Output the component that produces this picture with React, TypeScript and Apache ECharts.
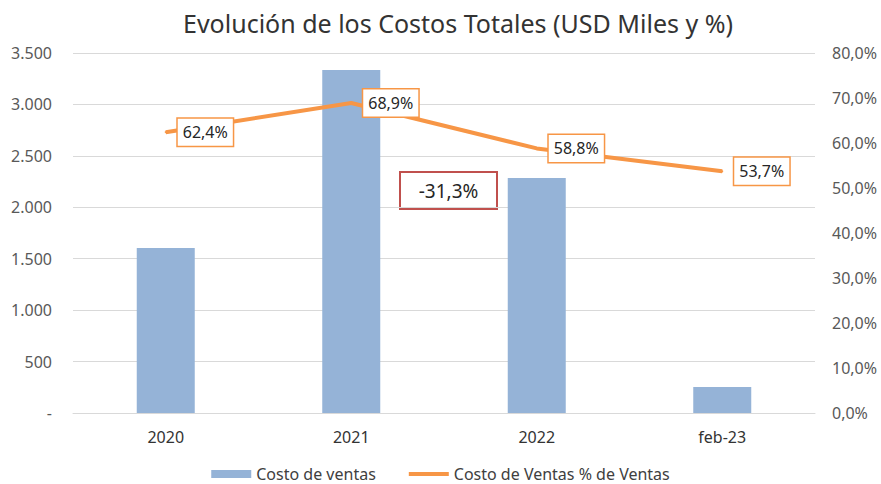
import React, { useEffect, useRef } from "react";
import * as echarts from "echarts";

const categories = ["2020", "2021", "2022", "feb-23"];
const costoVentas = [1604, 3335, 2285, 253];
const costoPct = [62.4, 68.9, 58.8, 53.7];
const variationLabel = "-31,3%";
const titleText = "Evolución de los Costos Totales (USD Miles y %)";

const FONT = "'Noto Sans', 'Open Sans', sans-serif";

function fmtThousands(v: number): string {
  if (v === 0) return "-";
  return String(v).replace(/\B(?=(\d{3})+(?!\d))/g, ".");
}
function fmtPct(v: number): string {
  return v.toFixed(1).replace(".", ",") + "%";
}

export default function App() {
  const ref = useRef<HTMLDivElement>(null);
  useEffect(() => {
    if (!ref.current) return;
    const chart = echarts.init(ref.current, undefined, { renderer: "svg" });
    chart.setOption({
      animation: false,
      backgroundColor: "#ffffff",
      title: {
        text: titleText,
        left: 178,
        top: 5,
        textStyle: { fontFamily: FONT, fontSize: 25, fontWeight: "normal", color: "#333333" },
      },
      legend: {
        top: 461,
        left: "center",
        itemGap: 33,
        itemWidth: 40,
        itemHeight: 8,
        textStyle: { fontFamily: FONT, fontSize: 16, color: "#404040" },
        data: [
          { name: "Costo de ventas", icon: "rect" },
          {
            name: "Costo de Ventas % de Ventas",
            icon: "path://M0,0 L40,0 L40,4 L0,4 Z",
            itemStyle: { color: "#F79646" },
          },
        ],
      },
      grid: { left: 73, right: 66, top: 53, bottom: 71 },
      xAxis: {
        type: "category",
        data: categories,
        axisLine: { lineStyle: { color: "#d9d9d9" } },
        axisTick: { show: false },
        axisLabel: { fontFamily: FONT, fontSize: 16, color: "#333333", margin: 16 },
      },
      yAxis: [
        {
          type: "value",
          min: 0,
          max: 3500,
          interval: 500,
          axisLine: { show: false },
          axisTick: { show: false },
          splitLine: { lineStyle: { color: "#d9d9d9" } },
          axisLabel: {
            fontFamily: FONT,
            fontSize: 16,
            color: "#595959",
            margin: 21,
            formatter: (v: number) => fmtThousands(v),
          },
        },
        {
          type: "value",
          min: 0,
          max: 80,
          interval: 10,
          position: "right",
          axisLine: { show: false },
          axisTick: { show: false },
          splitLine: { show: false },
          axisLabel: {
            fontFamily: FONT,
            fontSize: 16,
            color: "#595959",
            margin: 17,
            formatter: (v: number) => fmtPct(v),
          },
        },
      ],
      series: [
        {
          name: "Costo de ventas",
          type: "bar",
          data: costoVentas,
          barWidth: 58,
          itemStyle: { color: "#95B3D7" },
        },
        {
          name: "Costo de Ventas % de Ventas",
          type: "line",
          yAxisIndex: 1,
          data: costoPct,
          symbol: "circle",
          symbolSize: 2,
          showSymbol: true,
          lineStyle: { color: "#F79646", width: 4 },
          itemStyle: { color: "#F79646" },
          label: {
            show: true,
            position: "right",
            distance: 11,
            formatter: (p: any) => fmtPct(p.value),
            fontFamily: FONT,
            fontSize: 16,
            color: "#262626",
            backgroundColor: "#ffffff",
            borderColor: "#F79646",
            borderWidth: 1.5,
            padding: [6, 5, 5, 5],
          },
        },
      ],
      graphic: [
        {
          type: "group",
          left: 399,
          top: 171,
          children: [
            {
              type: "rect",
              shape: { x: 0, y: 0, width: 97, height: 37 },
              style: { fill: "#ffffff", stroke: "#C0504D", lineWidth: 2 },
            },
            {
              type: "text",
              x: 48.5,
              y: 19,
              style: {
                text: variationLabel,
                fontFamily: FONT,
                fontSize: 19,
                fill: "#262626",
                align: "center",
                verticalAlign: "middle",
              },
            },
          ],
        },
      ],
    });
    return () => chart.dispose();
  }, []);
  return (
    <div
      ref={ref}
      style={{ position: "absolute", left: 0, top: 0, width: 881, height: 484 }}
    />
  );
}
